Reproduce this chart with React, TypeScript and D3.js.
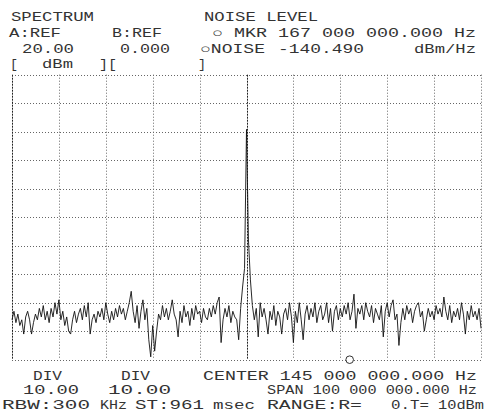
import React from "react";
import * as d3 from "d3";

const W = 485;
const H = 415;

// Frequency axis (MHz): center 145, span 100
const centerMHz = 145;
const spanMHz = 100;
const xDivs = 10;
// Level axis (dBm): ref 20, 10 dB/div
const refLevel = 20;
const dbPerDiv = 10;
const yDivs = 10;

const markerMHz = 167;

// Trace values (dBm), 241 sweep points
const traceDbm: number[] = [
  -66, -63, -67, -64, -68, -66, -71, -65, -63, -66,
  -71, -67, -64, -66, -62, -65, -61, -66, -63, -67,
  -62, -65, -60, -64, -59, -66, -63, -68, -65, -70,
  -71, -66, -63, -67, -64, -62, -66, -61, -65, -60,
  -71, -66, -64, -67, -63, -65, -62, -66, -60, -64,
  -67, -63, -66, -62, -65, -61, -64, -62, -66, -63,
  -60, -56, -63, -67, -61, -69, -63, -59, -66, -62,
  -73, -79, -68, -77, -70, -64, -66, -61, -65, -62,
  -66, -63, -59, -64, -66, -72, -63, -67, -61, -65,
  -63, -68, -62, -66, -61, -64, -63, -67, -62, -65,
  -66, -62, -65, -61, -64, -60, -58, -74, -66, -62,
  -65, -61, -67, -63, -65, -66, -73, -62, -54.5, -48,
  0.8,
  -38, -52, -61, -66, -62, -72, -60, -65, -62,
  -66, -71, -63, -66, -61, -68, -63, -65, -71, -64,
  -62, -66, -60, -65, -74, -63, -67, -60, -66, -73,
  -64, -61, -66, -62, -65, -60, -67, -63, -61, -66,
  -64, -60, -67, -62, -70, -63, -61, -66, -62, -65,
  -61, -64, -60, -66, -63, -57, -69, -62, -64, -61,
  -66, -60, -63, -65, -61, -67, -62, -64, -66, -61,
  -72, -63, -60, -65, -61, -59, -66, -64, -75, -67,
  -62, -66, -61, -64, -62, -67, -63, -61, -60, -65,
  -63, -70, -66, -62, -65, -63, -66, -61, -64, -62,
  -65, -58, -63, -66, -61, -67, -63, -65, -62, -66,
  -60, -64, -71, -63, -66, -61, -65, -63, -66, -62, -69,
];

// Header / footer texts
const topRow1 = ["SPECTRUM", "NOISE LEVEL"];
const topRow2 = ["A:REF", "B:REF", "○ MKR 167 000 000.000 Hz"];
const topRow3 = ["20.00", "0.000", "○NOISE", "-140.490", "dBm/Hz"];
const topRow4 = ["[", "dBm", "][", "]"];
const botRow1 = ["DIV", "DIV", "CENTER 145 000 000.000 Hz"];
const botRow2 = ["10.00", "10.00", "SPAN 100 000 000.000 Hz"];
const botRow3 = ["RBW:300", "KHz", "ST:961", "msec", "RANGE:R=", "0.T=", "10dBm"];

const plot = { left: 12, right: 481, top: 74.7, bottom: 359.7 };

const FONT = "'Liberation Mono', 'DejaVu Sans Mono', monospace";

function T({ x, x2, y, s }: { x: number; x2: number; y: number; s: string }) {
  return (
    <text
      x={x}
      y={y}
      textLength={x2 - x}
      lengthAdjust="spacingAndGlyphs"
      fontFamily={FONT}
      fontSize={12.5}
      fill="#333"
      xmlSpace="preserve"
    >
      {s}
    </text>
  );
}

export default function App() {
  const fStart = centerMHz - spanMHz / 2;
  const fStop = centerMHz + spanMHz / 2;
  const x = d3.scaleLinear().domain([fStart, fStop]).range([plot.left, plot.right]);
  const y = d3
    .scaleLinear()
    .domain([refLevel, refLevel - dbPerDiv * yDivs])
    .range([plot.top, plot.bottom]);

  const n = traceDbm.length;
  const pts: [number, number][] = traceDbm.map((v, i) => [fStart + (spanMHz * i) / (n - 1), v]);
  const line = d3
    .line<[number, number]>()
    .x((d) => x(d[0]))
    .y((d) => y(d[1]));

  const vTicks = d3.range(xDivs + 1).map((i) => fStart + (spanMHz / xDivs) * i);
  const hTicks = d3.range(yDivs + 1).map((j) => refLevel - dbPerDiv * j);

  return (
    <svg
      width={W}
      height={H}
      style={{ position: "absolute", left: 0, top: 0, background: "#fff" }}
    >
      <rect x={0} y={0} width={W} height={H} fill="#fff" />
      {/* grid */}
      {hTicks.map((v, j) => (
        <line
          key={"h" + j}
          x1={plot.left}
          x2={plot.right}
          y1={Math.round(y(v)) + 0.5}
          y2={Math.round(y(v)) + 0.5}
          stroke="#666"
          strokeWidth={1}
          strokeDasharray="1 2"
        />
      ))}
      {vTicks.map((f, i) => {
        const strong = i === 0 || i === xDivs / 2;
        return (
          <line
            key={"v" + i}
            x1={Math.round(x(f)) + 0.5}
            x2={Math.round(x(f)) + 0.5}
            y1={plot.top}
            y2={plot.bottom}
            stroke={strong ? "#222" : "#666"}
            strokeWidth={1}
            strokeDasharray={strong ? "2 1" : "1 2"}
          />
        );
      })}
      {/* trace */}
      <path d={line(pts) || ""} fill="none" stroke="#111" strokeWidth={0.9} strokeLinejoin="round" />
      {/* marker */}
      <circle cx={x(markerMHz)} cy={plot.bottom} r={3.8} fill="#fff" stroke="#333" strokeWidth={1} />

      {/* header */}
      <T x={11} x2={94} y={20.5} s={topRow1[0]} />
      <T x={204} x2={318} y={20.5} s={topRow1[1]} />
      <T x={9} x2={61} y={36.5} s={topRow2[0]} />
      <T x={112} x2={162} y={36.5} s={topRow2[1]} />
      <T x={212} x2={476} y={36.5} s={topRow2[2]} />
      <T x={22} x2={74} y={52.5} s={topRow3[0]} />
      <T x={120} x2={170} y={52.5} s={topRow3[1]} />
      <T x={200} x2={265} y={52.5} s={topRow3[2]} />
      <T x={278} x2={364} y={52.5} s={topRow3[3]} />
      <T x={414} x2={476} y={52.5} s={topRow3[4]} />
      <T x={10} x2={18} y={68} s={topRow4[0]} />
      <T x={42} x2={73} y={68} s={topRow4[1]} />
      <T x={99} x2={117} y={68} s={topRow4[2]} />
      <T x={198} x2={206} y={68} s={topRow4[3]} />

      {/* footer */}
      <T x={33} x2={62} y={379.5} s={botRow1[0]} />
      <T x={121} x2={150} y={379.5} s={botRow1[1]} />
      <T x={203} x2={477} y={379.5} s={botRow1[2]} />
      <T x={23} x2={79} y={394} s={botRow2[0]} />
      <T x={108} x2={171} y={394} s={botRow2[1]} />
      <T x={267} x2={477} y={394} s={botRow2[2]} />
      <T x={2} x2={90} y={408.5} s={botRow3[0]} />
      <T x={100} x2={127} y={408.5} s={botRow3[1]} />
      <T x={135} x2={204} y={408.5} s={botRow3[2]} />
      <T x={213} x2={255} y={408.5} s={botRow3[3]} />
      <T x={267} x2={362} y={408.5} s={botRow3[4]} />
      <T x={391} x2={429} y={408.5} s={botRow3[5]} />
      <T x={438} x2={484} y={408.5} s={botRow3[6]} />
    </svg>
  );
}
